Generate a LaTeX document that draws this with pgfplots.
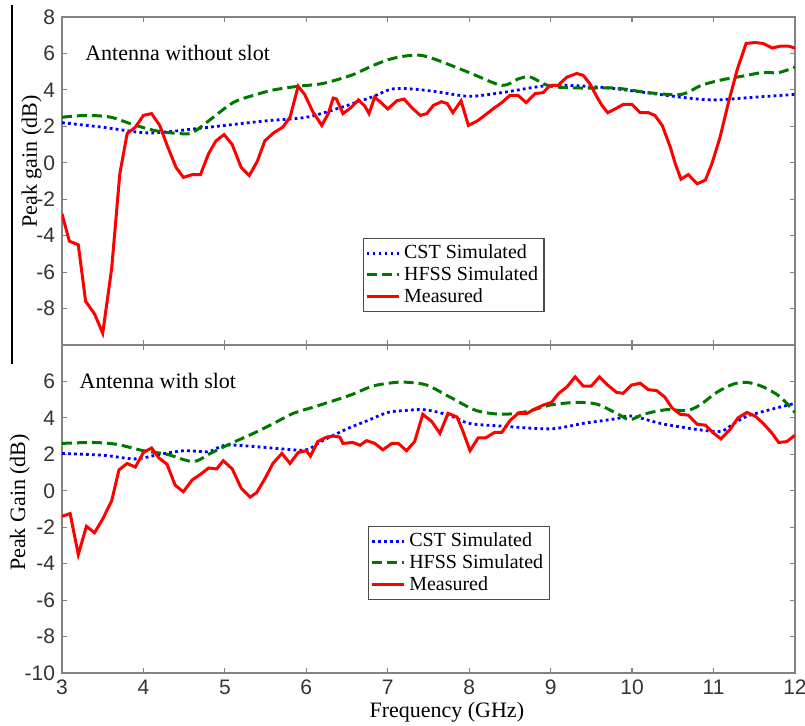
\documentclass[border=0pt]{standalone}
\usepackage{pgfplots}
\pgfplotsset{compat=1.18}
\usepackage{fontspec}
\setmainfont{Liberation Serif}
\newfontfamily\ticksans{Liberation Sans}
\definecolor{cstblue}{RGB}{0,0,255}
\definecolor{hfssgreen}{RGB}{0,120,0}
\definecolor{measred}{RGB}{255,0,0}
\definecolor{framegray}{RGB}{130,130,130}
\pgfplotsset{
  panel/.style={
    scale only axis, width=366.5pt, height=164pt,
    xmin=3, xmax=12, ymin=-10, ymax=8,
    xtick={3,4,...,12},
    tick align=inside, major tick length=2.5pt,
    axis line style={framegray, line width=0.8pt},
    tick style={framegray, line width=0.6pt},
    /pgf/number format/assume math mode=true,
    ticklabel style={font=\ticksans\fontsize{10.5}{12}\selectfont, text=black!80},
    label style={font=\fontsize{11}{13}\selectfont},
    ylabel shift=-9.5pt,
    legend cell align=left,
    legend style={font=\fontsize{10}{11}\selectfont, draw=black!70, fill=white,
      inner sep=1pt, row sep=-1.5pt, line width=0.6pt},
    legend image code/.code={\draw[#1] (0pt,0pt) -- (16pt,0pt);},
  },
  cst/.style={cstblue, line width=1.4pt, dash pattern=on 1.4pt off 1.6pt, smooth},
  hfss/.style={hfssgreen, line width=1.5pt, dash pattern=on 5pt off 2.5pt, smooth},
  meas/.style={measred, line width=1.5pt},
}
\begin{document}
\begin{tikzpicture}
\useasboundingbox (0,0) rectangle (402.5pt,-362.5pt);
\draw[black, line width=0.9pt] (6pt,-2.5pt) -- (6pt,-182pt);
\begin{axis}[panel, name=top, at={(31pt,-8.5pt)}, anchor=north west,
  ytick={-8,-6,...,8}, xticklabels={},
  ylabel={Peak gain (dB)},
  ylabel style={at={(ticklabel cs:0.56)}},
  legend style={at={(rel axis cs:0.41,0.326)}, anchor=north west}]
\addplot[cst] coordinates {
(3.0,2.2)(3.5,1.95)(4.0,1.65)(4.3,1.7)(4.6,1.85)(5.0,2.05)(5.5,2.3)(6.0,2.5)
(6.4,3.0)(6.8,3.6)(7.05,4.05)(7.3,4.05)(7.6,3.9)(8.0,3.65)(8.4,3.85)(9.0,4.25)
(9.6,4.15)(10.0,3.95)(10.6,3.6)(11.0,3.45)(11.5,3.6)(12.0,3.75)};
\addlegendentry{CST Simulated}
\addplot[hfss] coordinates {
(3.0,2.5)(3.3,2.6)(3.6,2.5)(3.87,2.1)(4.16,1.75)(4.45,1.6)(4.6,1.65)(4.8,2.3)
(5.1,3.3)(5.35,3.7)(5.6,4.0)(5.9,4.2)(6.2,4.35)(6.55,4.8)(6.8,5.3)(7.0,5.65)
(7.2,5.85)(7.4,5.9)(7.6,5.65)(8.0,4.95)(8.4,4.25)(8.6,4.6)(8.75,4.7)(9.0,4.2)
(9.4,4.1)(9.8,4.1)(10.2,3.85)(10.6,3.75)(10.85,4.25)(11.1,4.55)(11.35,4.75)
(11.6,4.95)(11.8,4.95)(12.0,5.25)};
\addlegendentry{HFSS Simulated}
\addplot[meas] coordinates {
(3.00,-2.8)(3.09,-4.3)(3.20,-4.5)(3.29,-7.6)(3.40,-8.3)(3.50,-9.35)(3.61,-5.8)
(3.71,-0.6)(3.80,1.6)(3.90,1.95)(4.00,2.6)(4.10,2.7)(4.20,2.05)(4.30,0.85)
(4.40,-0.25)(4.49,-0.8)(4.60,-0.65)(4.70,-0.65)(4.80,0.5)(4.89,1.2)(4.99,1.55)
(5.09,1.0)(5.20,-0.25)(5.30,-0.7)(5.40,0.1)(5.49,1.2)(5.60,1.65)(5.71,1.95)
(5.80,2.5)(5.90,4.2)(5.98,3.75)(6.08,2.8)(6.19,2.05)(6.27,2.7)(6.33,3.55)
(6.37,3.5)(6.45,2.7)(6.54,3.0)(6.64,3.45)(6.72,3.1)(6.77,2.7)(6.84,3.6)
(6.93,3.25)(7.00,2.95)(7.11,3.4)(7.20,3.5)(7.30,3.0)(7.40,2.6)(7.48,2.7)
(7.56,3.15)(7.66,3.35)(7.73,3.25)(7.80,2.75)(7.90,3.4)(7.99,2.05)(8.10,2.3)
(8.19,2.6)(8.29,2.95)(8.40,3.3)(8.50,3.7)(8.60,3.7)(8.70,3.3)(8.81,3.8)
(8.91,3.85)(8.99,4.25)(9.09,4.25)(9.20,4.7)(9.32,4.9)(9.40,4.8)(9.48,4.35)
(9.57,3.6)(9.63,3.15)(9.70,2.75)(9.81,3.0)(9.89,3.2)(10.00,3.2)(10.10,2.75)
(10.20,2.75)(10.28,2.6)(10.37,2.05)(10.47,0.85)(10.53,-0.05)(10.60,-0.9)
(10.69,-0.65)(10.80,-1.15)(10.90,-0.95)(10.98,-0.05)(11.08,1.4)(11.18,3.25)
(11.29,5.1)(11.40,6.55)(11.51,6.6)(11.61,6.55)(11.72,6.3)(11.82,6.4)
(11.92,6.4)(12.00,6.3)};
\addlegendentry{Measured}
\node[anchor=west, font=\fontsize{11}{13}\selectfont] at (axis cs:3.2,6.05) {Antenna without slot};
\end{axis}
\begin{axis}[panel, name=bot, at={(top.south west)}, anchor=north west,
  ytick={-10,-8,...,6},
  xlabel={Frequency (GHz)},
  ylabel={Peak Gain (dB)},
  xlabel style={at={(ticklabel cs:0.525)}, yshift=3pt},
  ylabel style={at={(ticklabel cs:0.52)}},
  legend style={at={(rel axis cs:0.417,0.448)}, anchor=north west}]
\addplot[cst] coordinates {
(3.0,2.05)(3.5,1.95)(3.9,1.75)(4.2,2.0)(4.5,2.2)(4.8,2.15)(5.0,2.5)(5.3,2.45)
(5.7,2.3)(6.0,2.25)(6.2,2.75)(6.5,3.4)(6.75,3.85)(7.0,4.3)(7.2,4.4)(7.45,4.45)
(7.75,4.15)(8.0,3.7)(8.4,3.55)(9.0,3.4)(9.4,3.7)(9.8,3.95)(10.0,4.1)(10.4,3.65)
(11.05,3.25)(11.25,3.7)(11.45,4.15)(12.0,4.8)};
\addlegendentry{CST Simulated}
\addplot[hfss] coordinates {
(3.0,2.6)(3.38,2.65)(3.67,2.55)(4.0,2.2)(4.29,2.0)(4.61,1.6)(4.82,2.05)(5.1,2.65)
(5.35,3.15)(5.6,3.7)(5.84,4.25)(6.13,4.65)(6.54,5.25)(6.82,5.75)(7.1,5.95)
(7.25,5.95)(7.48,5.8)(7.76,5.15)(8.09,4.4)(8.41,4.2)(8.71,4.35)(8.99,4.7)
(9.32,4.85)(9.57,4.75)(9.81,4.25)(9.97,3.9)(10.14,4.2)(10.42,4.45)(10.67,4.4)
(10.83,4.7)(11.04,5.4)(11.24,5.85)(11.41,5.95)(11.61,5.7)(11.82,5.15)(12.0,4.3)};
\addlegendentry{HFSS Simulated}
\addplot[meas] coordinates {
(3.00,-1.4)(3.10,-1.25)(3.20,-3.5)(3.30,-1.95)(3.40,-2.3)(3.50,-1.55)(3.61,-0.55)
(3.70,1.15)(3.80,1.5)(3.90,1.3)(4.00,2.1)(4.10,2.35)(4.19,1.8)(4.29,1.45)
(4.39,0.3)(4.49,-0.05)(4.60,0.6)(4.70,0.9)(4.80,1.25)(4.90,1.2)(4.98,1.65)
(5.09,1.2)(5.20,0.15)(5.31,-0.35)(5.39,-0.1)(5.49,0.65)(5.59,1.5)(5.70,2.05)
(5.80,1.5)(5.90,2.1)(6.00,2.2)(6.05,1.9)(6.14,2.7)(6.25,2.95)(6.33,3.0)
(6.41,2.95)(6.45,2.6)(6.57,2.65)(6.66,2.5)(6.74,2.75)(6.84,2.6)(6.94,2.25)
(7.05,2.6)(7.13,2.6)(7.23,2.2)(7.33,2.7)(7.43,4.2)(7.54,3.8)(7.64,3.15)
(7.74,4.25)(7.85,4.05)(7.92,3.3)(8.01,2.2)(8.11,2.9)(8.20,2.9)(8.31,3.2)
(8.40,3.2)(8.50,3.85)(8.60,4.25)(8.71,4.25)(8.81,4.5)(8.91,4.7)(9.01,4.85)
(9.10,5.35)(9.20,5.7)(9.30,6.25)(9.40,5.75)(9.50,5.75)(9.60,6.25)(9.70,5.8)
(9.81,5.4)(9.89,5.35)(9.99,5.8)(10.10,5.9)(10.20,5.55)(10.30,5.5)(10.40,5.15)
(10.49,4.55)(10.59,4.2)(10.69,4.15)(10.80,3.65)(10.90,3.6)(10.99,3.2)
(11.09,2.85)(11.20,3.35)(11.30,4.0)(11.41,4.3)(11.51,4.1)(11.61,3.7)
(11.72,3.15)(11.80,2.65)(11.90,2.7)(12.00,3.05)};
\addlegendentry{Measured}
\node[anchor=west, font=\fontsize{11}{13}\selectfont] at (axis cs:3.13,6.05) {Antenna with slot};
\end{axis}
\end{tikzpicture}
\end{document}
